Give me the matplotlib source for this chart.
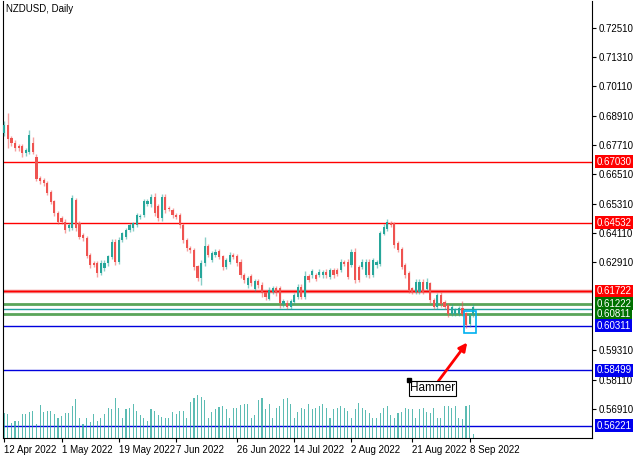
import numpy as np
import matplotlib.pyplot as plt
import matplotlib.transforms as mtransforms
from matplotlib.patches import Rectangle

plt.rcParams['font.family'] = ['Liberation Sans', 'DejaVu Sans']

# daily NZDUSD candles
opens = [0.6819, 0.6853, 0.6798, 0.6780, 0.6767, 0.6764, 0.6737, 0.6744, 0.6778, 0.6723,
         0.6637, 0.6628, 0.6614, 0.6576, 0.6539, 0.6491, 0.6471, 0.6457, 0.6430, 0.6430,
         0.6546, 0.6450, 0.6403, 0.6389, 0.6321, 0.6287, 0.6287, 0.6246, 0.6266, 0.6287,
         0.6314, 0.6375, 0.6293, 0.6382, 0.6396, 0.6423, 0.6430, 0.6443, 0.6478, 0.6484,
         0.6529, 0.6529, 0.6559, 0.6519, 0.6471, 0.6559, 0.6512, 0.6505, 0.6484, 0.6484,
         0.6443, 0.6382, 0.6348, 0.6341, 0.6273, 0.6225, 0.6287, 0.6355, 0.6300, 0.6321,
         0.6335, 0.6314, 0.6273, 0.6293, 0.6321, 0.6314, 0.6293, 0.6239, 0.6198, 0.6232,
         0.6180, 0.6212, 0.6198, 0.6167, 0.6143, 0.6171, 0.6184, 0.6184, 0.6120, 0.6123,
         0.6109, 0.6130, 0.6150, 0.6191, 0.6150, 0.6232, 0.6239, 0.6238, 0.6238, 0.6238,
         0.6252, 0.6231, 0.6259, 0.6259, 0.6259, 0.6293, 0.6293, 0.6279, 0.6334, 0.6272,
         0.6272, 0.6238, 0.6293, 0.6238, 0.6279, 0.6286, 0.6409, 0.6429, 0.6450, 0.6450,
         0.6368, 0.6345, 0.6279, 0.6245, 0.6184, 0.6170, 0.6170, 0.6211, 0.6184, 0.6204,
         0.6136, 0.6109, 0.6156, 0.6129, 0.6115, 0.6081, 0.6081, 0.6081, 0.6102, 0.6081,
         0.6040, 0.6074]
closes = [0.6853, 0.6794, 0.6778, 0.6757, 0.6757, 0.6737, 0.6750, 0.6812, 0.6744, 0.6634,
          0.6623, 0.6614, 0.6573, 0.6539, 0.6491, 0.6457, 0.6457, 0.6423, 0.6443, 0.6553,
          0.6430, 0.6396, 0.6389, 0.6317, 0.6280, 0.6280, 0.6246, 0.6287, 0.6289, 0.6314,
          0.6375, 0.6293, 0.6382, 0.6409, 0.6423, 0.6443, 0.6450, 0.6484, 0.6480, 0.6539,
          0.6539, 0.6557, 0.6491, 0.6471, 0.6559, 0.6505, 0.6508, 0.6484, 0.6478, 0.6443,
          0.6382, 0.6348, 0.6341, 0.6273, 0.6225, 0.6289, 0.6355, 0.6321, 0.6328, 0.6334,
          0.6314, 0.6273, 0.6300, 0.6321, 0.6314, 0.6287, 0.6239, 0.6218, 0.6225, 0.6205,
          0.6212, 0.6198, 0.6164, 0.6150, 0.6178, 0.6184, 0.6164, 0.6123, 0.6130, 0.6109,
          0.6130, 0.6157, 0.6191, 0.6150, 0.6235, 0.6218, 0.6253, 0.6224, 0.6252, 0.6252,
          0.6238, 0.6259, 0.6238, 0.6245, 0.6293, 0.6286, 0.6231, 0.6334, 0.6218, 0.6218,
          0.6293, 0.6293, 0.6238, 0.6300, 0.6293, 0.6409, 0.6436, 0.6456, 0.6443, 0.6361,
          0.6340, 0.6272, 0.6238, 0.6177, 0.6170, 0.6211, 0.6211, 0.6170, 0.6211, 0.6136,
          0.6109, 0.6156, 0.6122, 0.6109, 0.6081, 0.6109, 0.6095, 0.6102, 0.6081, 0.6034,
          0.6074, 0.6109]
# wick lengths in pips above / below the body
wick_up = [15, 50, 12, 10, 8, 10, 8, 21, 27, 12, 8, 8, 10, 10, 8, 10, 8, 10, 8, 15,
           10, 12, 8, 10, 10, 8, 10, 12, 10, 8, 10, 12, 12, 8, 10, 8, 8, 10, 8, 12,
           10, 12, 14, 10, 12, 10, 8, 8, 10, 10, 10, 8, 8, 10, 8, 10, 41, 12, 10, 12,
           10, 8, 10, 12, 8, 10, 10, 8, 10, 12, 10, 10, 12, 8, 12, 10, 10, 12, 10, 12,
           10, 8, 12, 10, 20, 10, 12, 10, 10, 8, 10, 10, 8, 10, 12, 8, 10, 12, 14, 10,
           10, 12, 10, 10, 8, 10, 10, 12, 10, 8, 10, 8, 10, 10, 8, 12, 10, 10, 14, 8,
           10, 10, 12, 10, 8, 10, 10, 12, 30, 8, 10, 12]
wick_dn = [10, 37, 12, 10, 10, 14, 10, 8, 10, 10, 10, 10, 8, 10, 12, 10, 8, 12, 10, 8,
           12, 10, 10, 10, 12, 10, 15, 8, 10, 10, 8, 12, 10, 8, 10, 8, 10, 8, 10, 8,
           8, 10, 10, 12, 10, 10, 8, 10, 8, 10, 12, 10, 10, 12, 10, 25, 10, 10, 8, 10,
           8, 12, 10, 8, 10, 10, 12, 10, 10, 10, 8, 10, 15, 12, 8, 10, 10, 18, 10, 10,
           10, 8, 10, 10, 10, 8, 10, 10, 8, 10, 10, 8, 10, 10, 8, 8, 10, 8, 10, 8,
           10, 8, 10, 8, 10, 8, 8, 10, 8, 10, 8, 10, 10, 10, 10, 8, 10, 10, 8, 10,
           10, 10, 12, 10, 12, 10, 10, 10, 10, 10, 12, 8]
volumes = [75, 70, 45, 50, 50, 70, 70, 78, 80, 40, 97, 78, 80, 80, 72, 60, 65, 75, 75, 95,
           115, 60, 40, 58, 48, 72, 50, 60, 72, 90, 85, 120, 90, 60, 85, 90, 100, 80, 67, 60,
           50, 87, 80, 67, 62, 60, 60, 78, 70, 80, 80, 60, 108, 120, 128, 122, 112, 60, 78, 85,
           92, 95, 87, 60, 88, 88, 97, 100, 102, 60, 68, 112, 120, 85, 100, 60, 88, 95, 115, 120,
           100, 60, 78, 90, 86, 100, 85, 90, 95, 100, 90, 60, 85, 90, 95, 90, 80, 60, 85, 105,
           88, 83, 75, 60, 60, 75, 90, 95, 68, 60, 75, 78, 88, 85, 85, 60, 85, 90, 78, 75,
           90, 60, 60, 95, 95, 90, 95, 60, 55, 95, 97, 10]

tick_idx = [0, 16, 32, 48, 65, 81, 97, 114, 130]
tick_lbl = ['12 Apr 2022', '1 May 2022', '19 May 2022', '7 Jun 2022', '26 Jun 2022',
            '14 Jul 2022', '2 Aug 2022', '21 Aug 2022', '8 Sep 2022']
price_ticks = [0.7251, 0.7131, 0.7011, 0.6891, 0.6771, 0.6651, 0.6531, 0.6411, 0.6291,
               0.5931, 0.5811, 0.5691]

red_levels = [0.67030, 0.64532, 0.61722]
green_levels = [0.61222, 0.60811]
teal_level = 0.6102
blue_levels = [0.60311, 0.58499, 0.56221]

UP = '#26a69a'
DN = '#ef5350'

fig = plt.figure(figsize=(6.4, 4.57), dpi=100)
ax = fig.add_axes([0.005, 0.042, 0.920, 0.956])
n = len(opens)
x = np.arange(n)
o = np.array(opens); c = np.array(closes)
hi = np.maximum(o, c) + np.array(wick_up) * 1e-4
lo = np.minimum(o, c) - np.array(wick_dn) * 1e-4
cols = [UP if cc >= oo else DN for oo, cc in zip(o, c)]

# volume in the bottom strip
axv = ax.twinx()
axv.bar(x, volumes, width=0.3, color=UP, alpha=0.75, zorder=1)
axv.set_ylim(0, max(volumes) * 438 / 43)
axv.axis('off')

ax.vlines(x, lo, hi, colors=cols, lw=1, alpha=0.55, zorder=3)
ax.bar(x, np.abs(c - o) + 0.00012, bottom=np.minimum(o, c), width=0.6,
       color=cols, zorder=4)

trans = mtransforms.blended_transform_factory(ax.transAxes, ax.transData)
for p in red_levels:
    ax.axhline(p, color='red', lw=1, zorder=2)
ax.axhline(red_levels[2], color='#f08080', lw=2.5, zorder=1)
for p in green_levels:
    ax.axhline(p, color='#5aa55a', lw=2, zorder=2)
ax.axhline(teal_level, color='#20a0a0', lw=1, zorder=2)
for p in blue_levels:
    ax.axhline(p, color='#0000dd', lw=1, zorder=2)

def level_box(p, bg):
    ax.text(1.008, p, '%.5f' % p, transform=trans, fontsize=7, color='white',
            va='center', ha='left', zorder=10,
            bbox=dict(boxstyle='square,pad=0.15', fc=bg, ec='none'), clip_on=False)

for p in red_levels:
    level_box(p, '#ff0000')
for p in green_levels:
    level_box(p, '#007000')
for p in blue_levels:
    level_box(p, '#0000ee')

# hammer marker
ax.add_patch(Rectangle((128.5, 0.6000), 3.3, 0.0090, fill=False, ec='#00b0f0', lw=1.2, zorder=6))
ax.annotate('', xy=(129.8, 0.5972), xytext=(120.8, 0.5796),
            arrowprops=dict(arrowstyle='-|>', color='red', lw=2, mutation_scale=12))
ax.text(113.3, 0.5775, 'Hammer', fontsize=8.5, va='center', ha='left', zorder=7,
        bbox=dict(boxstyle='square,pad=0.1', fc='white', ec='black', lw=0.8))
ax.plot([113.0], [0.5808], marker='s', ms=3, color='black', zorder=8)

ax.set_xlim(-0.3, 164.2)
ax.set_ylim(0.5573, 0.7361)
ax.yaxis.tick_right()
ax.set_yticks(price_ticks)
ax.set_yticklabels(['%.5f' % t for t in price_ticks])
ax.set_xticks(tick_idx)
ax.set_xticklabels(tick_lbl, ha='left')
ax.tick_params(labelsize=7, length=3, pad=2)
ax.spines['top'].set_visible(False)
ax.text(0.005, 0.993, 'NZDUSD, Daily', transform=ax.transAxes, fontsize=7, va='top', ha='left')

fig.savefig('out.png', dpi=100)
